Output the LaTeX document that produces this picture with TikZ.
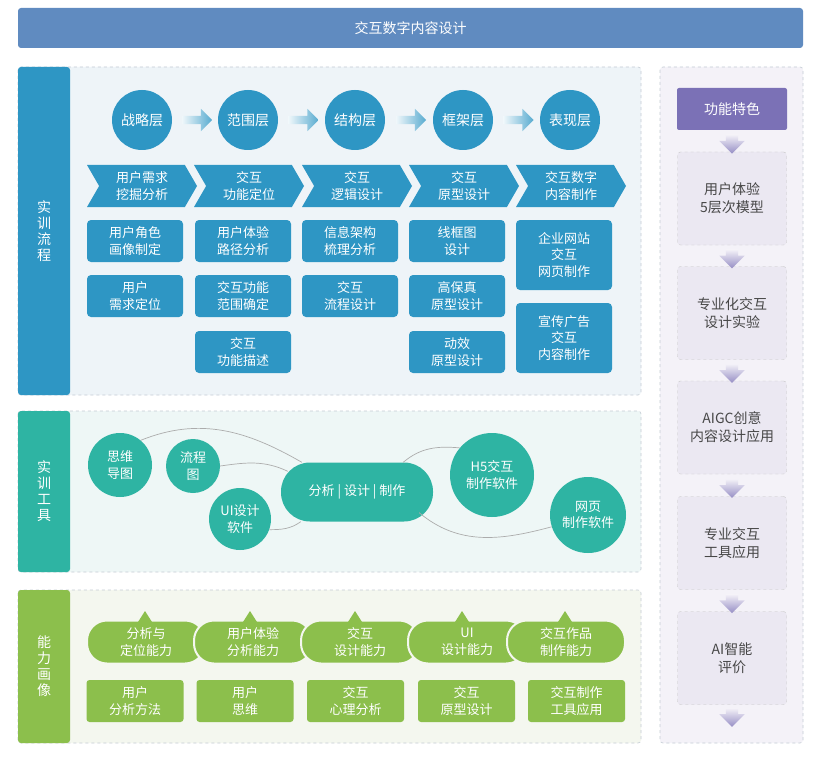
\documentclass[tikz,border=0pt]{standalone}
\usepackage{fontspec}
\setmainfont{Noto Sans CJK SC}
\usetikzlibrary{arrows.meta, positioning, calc, shapes.symbols, shapes.arrows}
\definecolor{titleblue}{RGB}{96,139,192}
\definecolor{flowblue}{RGB}{46,150,196}
\definecolor{flowbg}{RGB}{238,244,248}
\definecolor{toolteal}{RGB}{46,180,163}
\definecolor{toolbg}{RGB}{238,247,246}
\definecolor{abilgreen}{RGB}{140,191,76}
\definecolor{abilbg}{RGB}{244,247,239}
\definecolor{featpurple}{RGB}{123,113,182}
\definecolor{featbg}{RGB}{244,242,248}
\definecolor{featbox}{RGB}{235,232,242}
\definecolor{dashgray}{RGB}{196,204,212}

\begin{document}
\begin{tikzpicture}[x=1pt, y=-1pt,
  every node/.style={font=\fontsize{13}{16.5}\selectfont, align=center, text=white, inner sep=0pt},
  panel/.style={draw=dashgray, dashed, line width=0.6pt, rounded corners=3pt},
  tab/.style={rounded corners=3pt, minimum width=52pt, font=\fontsize{14}{16}\selectfont},
  layer/.style={circle, fill=flowblue, minimum size=60pt, font=\fontsize{14}{17}\selectfont},
  chev/.style={signal, signal from=west, signal to=east, signal pointer angle=120, fill=flowblue, minimum width=110pt, minimum height=42pt},
  flowbox/.style={fill=flowblue, rounded corners=4pt, minimum width=96pt, minimum height=42pt},
  blockarr/.style={single arrow, inner sep=4pt, single arrow head extend=7pt, minimum height=30pt, left color=flowblue!8, right color=flowblue!80},
  toolcirc/.style={circle, fill=toolteal},
  link/.style={draw=gray!65, line width=0.7pt},
  ability/.style={fill=abilgreen, draw=abilbg, line width=2pt, rounded corners=20pt, minimum width=118pt, minimum height=43pt},
  skill/.style={fill=abilgreen, rounded corners=3pt, minimum width=97pt, minimum height=42pt},
  feathead/.style={fill=featpurple, rounded corners=2pt, minimum width=110pt, minimum height=42pt, font=\fontsize{14}{17}\selectfont},
  featitem/.style={fill=featbox, draw=gray!45, dashed, rounded corners=3pt, minimum width=109pt, minimum height=93pt, text=black!72, font=\fontsize{14}{18}\selectfont},
  downarr/.style={single arrow, shape border rotate=270, inner sep=6pt, single arrow head extend=6.5pt, minimum height=19pt, top color=featbg, bottom color=featpurple!80}
]
  \useasboundingbox[fill=white] (0,0) rectangle (813,762);

  % title
  \node[fill=titleblue, rounded corners=3pt, minimum width=785pt, minimum height=40pt, font=\fontsize{14}{17}\selectfont] (title) at (410.5,28) {交互数字内容设计};

  % panels
  \draw[panel, fill=flowbg] (18,67) rectangle (641,395);
  \draw[panel, fill=toolbg] (18,411) rectangle (641,572);
  \draw[panel, fill=abilbg] (18,590) rectangle (641,743);
  \draw[panel, fill=featbg] (660,67) rectangle (803,743);

  \node[tab, fill=flowblue, minimum height=328pt] (tab1) at (44,231) {实\\训\\流\\程};
  \node[tab, fill=toolteal, minimum height=161pt] (tab2) at (44,491.5) {实\\训\\工\\具};
  \node[tab, fill=abilgreen, minimum height=153pt] (tab3) at (44,666.5) {能\\力\\画\\像};

  % 实训流程
  \node[layer] (s1) at (142,120) {战略层};
  \node[layer] (s2) at (248,120) {范围层};
  \node[layer] (s3) at (355,120) {结构层};
  \node[layer] (s4) at (463,120) {框架层};
  \node[layer] (s5) at (570,120) {表现层};
  \node[blockarr] (a12) at ($(s1)!0.5!(s2)$) {};
  \node[blockarr] (a23) at ($(s2)!0.5!(s3)$) {};
  \node[blockarr] (a34) at ($(s3)!0.5!(s4)$) {};
  \node[blockarr] (a45) at ($(s4)!0.5!(s5)$) {};

  \node[chev] (c1) at (142,186) {用户需求\\挖掘分析};
  \node[chev] (c2) at (249,186) {交互\\功能定位};
  \node[chev] (c3) at (357,186) {交互\\逻辑设计};
  \node[chev] (c4) at (464,186) {交互\\原型设计};
  \node[chev] (c5) at (571,186) {交互数字\\内容制作};

  \node[flowbox] (u1) at (135,241) {用户角色\\画像制定};
  \node[flowbox] (u2) at (135,296) {用户\\需求定位};
  \node[flowbox] (r1) at (243,241) {用户体验\\路径分析};
  \node[flowbox] (r2) at (243,296) {交互功能\\范围确定};
  \node[flowbox] (r3) at (243,352) {交互\\功能描述};
  \node[flowbox] (j1) at (350,241) {信息架构\\梳理分析};
  \node[flowbox] (j2) at (350,296) {交互\\流程设计};
  \node[flowbox] (k1) at (457,241) {线框图\\设计};
  \node[flowbox] (k2) at (457,296) {高保真\\原型设计};
  \node[flowbox] (k3) at (457,352) {动效\\原型设计};
  \node[flowbox, minimum height=70pt] (b1) at (564,255) {企业网站\\交互\\网页制作};
  \node[flowbox, minimum height=70pt] (b2) at (564,338) {宣传广告\\交互\\内容制作};

  % 实训工具
  \node[toolcirc, minimum size=64pt] (mind) at (120,465) {思维\\导图};
  \node[toolcirc, minimum size=54pt] (chart) at (193,466) {流程\\图};
  \node[toolcirc, minimum size=62pt] (ui) at (240,519) {UI设计\\软件};
  \node[fill=toolteal, rounded corners=29pt, minimum width=152pt, minimum height=59pt] (core) at (357,492) {分析 | 设计 | 制作};
  \node[toolcirc, minimum size=84pt] (h5) at (492,475) {H5交互\\制作软件};
  \node[toolcirc, minimum size=76pt] (web) at (588,515) {网页\\制作软件};

  \draw[link] (mind.50) to[out=22, in=150] ([xshift=21pt]core.north west);
  \draw[link] (chart.east) to[out=8, in=155] ($(core.north west)+(7,9)$);
  \draw[link] (ui.-20) to[out=0, in=215] ([xshift=20pt]core.south west);
  \draw[link] ([xshift=-30pt]core.north east) to[out=40, in=175] (h5.140);
  \draw[link] ([xshift=-14pt,yshift=9pt]core.south east) to[out=-40, in=195] (web.198);

  % 能力画像
  \node[ability] (p1) at (146,642) {分析与\\定位能力};
  \node[ability] (p2) at (253,642) {用户体验\\分析能力};
  \node[ability] (p3) at (360,642) {交互\\设计能力};
  \node[ability] (p4) at (467,642) {UI\\设计能力};
  \node[ability] (p5) at (566,642) {交互作品\\制作能力};
  \fill[abilgreen] (138,622) -- (145,611) -- (152,622) -- cycle;
  \fill[abilgreen] (243,622) -- (250,611) -- (257,622) -- cycle;
  \fill[abilgreen] (348,622) -- (355,611) -- (362,622) -- cycle;
  \fill[abilgreen] (455,622) -- (462,611) -- (469,622) -- cycle;
  \fill[abilgreen] (558,622) -- (565,611) -- (572,622) -- cycle;

  \node[skill] (q1) at (135,701) {用户\\分析方法};
  \node[skill] (q2) at (245,701) {用户\\思维};
  \node[skill] (q3) at (355.5,701) {交互\\心理分析};
  \node[skill] (q4) at (466.5,701) {交互\\原型设计};
  \node[skill] (q5) at (576.5,701) {交互制作\\工具应用};

  % 功能特色
  \node[feathead] (fh) at (732,109) {功能特色};
  \node[featitem] (f1) at (732,198.5) {用户体验\\5层次模型};
  \node[featitem] (f2) at (732,313) {专业化交互\\设计实验};
  \node[featitem] (f3) at (732,427.5) {AIGC创意\\内容设计应用};
  \node[featitem] (f4) at (732,543) {专业交互\\工具应用};
  \node[featitem] (f5) at (732,658) {AI智能\\评价};
  \node[downarr] (d1) at ($(fh.south)!0.5!(f1.north)$) {};
  \node[downarr] (d2) at ($(f1.south)!0.5!(f2.north)$) {};
  \node[downarr] (d3) at ($(f2.south)!0.5!(f3.north)$) {};
  \node[downarr] (d4) at ($(f3.south)!0.5!(f4.north)$) {};
  \node[downarr] (d5) at ($(f4.south)!0.5!(f5.north)$) {};
  \node[downarr, below=3pt of f5] (d6) {};
\end{tikzpicture}
\end{document}
